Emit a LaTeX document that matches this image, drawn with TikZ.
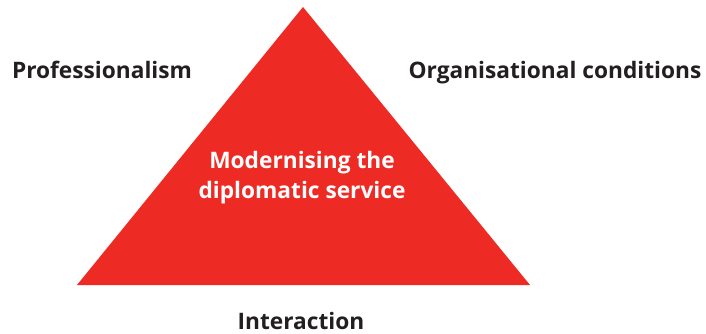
\documentclass[tikz,border=0pt]{standalone}
\usepackage{fontspec}
\setmainfont{Open Sans}
\definecolor{tri}{HTML}{EE2A24}
\definecolor{ink}{HTML}{231F20}
\begin{document}
\begin{tikzpicture}[x=1pt,y=-1pt,
  lbl/.style={font=\fontsize{22.7}{27}\selectfont\bfseries, text=ink, anchor=base, inner sep=0pt},
  ctr/.style={font=\fontsize{22.7}{30}\selectfont\bfseries, text=white, anchor=base, inner sep=0pt}]
\useasboundingbox (0,0) rectangle (706,333);
\coordinate (apex) at (303,7);
\coordinate (bl) at (77,285);
\coordinate (br) at (530,285);
\fill[tri] (apex) -- (bl) -- (br) -- cycle;
\node[ctr] (c1) at (302,168) {Modernising the};
\node[ctr] (c2) at (302,198) {diplomatic service};
\node[lbl] (p) at (102,78) {Professionalism};
\node[lbl] (o) at (555,78) {Organisational conditions};
\node[lbl] (i) at (301,329) {Interaction};
\end{tikzpicture}
\end{document}
